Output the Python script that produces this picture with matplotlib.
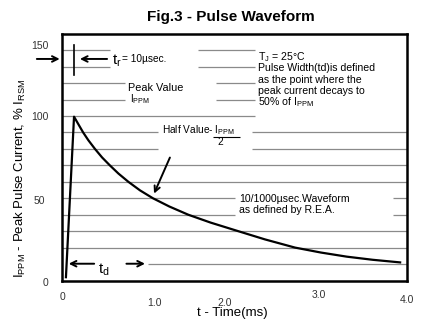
import numpy as np
import matplotlib
matplotlib.use('Agg')
import matplotlib.pyplot as plt
from matplotlib.transforms import ScaledTranslation

plt.rcParams['font.family'] = ['Liberation Sans', 'DejaVu Sans']
plt.rcParams['mathtext.default'] = 'regular'

# pulse waveform (time in ms, % of I_RSM)
t_ms = [0.04, 0.134, 0.19, 0.24, 0.30, 0.377, 0.46, 0.55, 0.65, 0.765, 0.90,
        1.05, 1.24, 1.46, 1.72, 2.04, 2.35, 2.70, 3.00, 3.30, 3.60, 3.92]
current = [2, 99.6, 94.5, 90, 85.3, 80, 74.8, 70, 65, 60, 54.8,
           50, 45.0, 40, 35.2, 30, 25.0, 20, 17.0, 14.5, 12.6, 11.0]

x_ticks = [0, 1, 2, 3, 4]
x_labels = ['0', '1.0', '2.0', '3.0', '4.0']
y_ticks = [0, 50, 100, 150]
y_labels = ['0', '50', '100', '150']

# horizontal guide lines, broken where the notes sit: (level, [(start, end), ...])
grid_lines = [
    (140, [(0, 0.55), (1.57, 2.24)]),
    (130, [(0, 0.55), (1.57, 2.24)]),
    (120, [(0, 0.73), (1.78, 2.24)]),
    (110, [(0, 0.73), (1.78, 2.24)]),
    (100, [(0, 2.24)]),
    (90, [(0, 1.11), (2.20, 4.0)]),
    (80, [(0, 1.11), (2.20, 4.0)]),
    (70, [(0, 4.0)]),
    (60, [(0, 4.0)]),
    (50, [(0, 2.0), (3.84, 4.0)]),
    (40, [(0, 2.0), (3.84, 4.0)]),
    (30, [(0, 4.0)]),
    (20, [(0, 4.0)]),
    (10, [(0.99, 4.0)]),
]

fig = plt.figure(figsize=(4.28, 3.30), dpi=100)
ax = fig.add_axes([0.146, 0.15, 0.805, 0.7476])
ax.set_xlim(0, 4)
ax.set_ylim(0, 150)

for level, segs in grid_lines:
    for a, b in segs:
        ax.hlines(level, a, b, color='#8a8a8a', lw=0.9, zorder=1)

ax.plot(t_ms, current, color='black', lw=1.6, zorder=3)

for s in ax.spines.values():
    s.set_linewidth(1.8)

ax.set_xticks(x_ticks)
ax.set_xticklabels(x_labels)
ax.set_yticks(y_ticks)
ax.set_yticklabels(y_labels)
ax.tick_params(length=0, labelsize=7.5, labelcolor='#333333')
ax.tick_params(axis='x', pad=8)
ax.tick_params(axis='y', pad=10)

# the printed labels are a bit scattered
x_off = [(0, 0), (6, -6), (-10, -6), (-2, 2), (0, -3)]
for lbl, (dx, dy) in zip(ax.get_xticklabels(), x_off):
    lbl.set_transform(lbl.get_transform() + ScaledTranslation(dx / 100, dy / 100, fig.dpi_scale_trans))
y_off = [(0, -2), (-4, -2), (0, 0), (0, -11)]
for lbl, (dx, dy) in zip(ax.get_yticklabels(), y_off):
    lbl.set_transform(lbl.get_transform() + ScaledTranslation(dx / 100, dy / 100, fig.dpi_scale_trans))

fig.text(231 / 428, 1 - 17 / 330, 'Fig.3 - Pulse Waveform', ha='center', va='center',
         fontsize=11, fontweight='bold')
fig.text(232 / 428, 1 - 313 / 330, 't - Time(ms)', ha='center', va='center', fontsize=9.5)
fig.text(20 / 428, 1 - 178 / 330, r'$I_{PPM}$ - Peak Pulse Current, % $I_{RSM}$',
         ha='center', va='center', rotation=90, fontsize=9.5)

arrow = dict(arrowstyle='->', color='black', lw=1.4, mutation_scale=10)
fs = 7.3

# rise time marker
ax.plot([0.134, 0.134], [125, 143.2], color='black', lw=1.2)
ax.annotate('', xy=(0, 134.7), xytext=(-0.33, 134.7), arrowprops=arrow, annotation_clip=False)
ax.annotate('', xy=(0.17, 134.7), xytext=(0.55, 134.7), arrowprops=arrow)
ax.text(0.575, 133.5, r'$t_r$', fontsize=11, va='center')
ax.text(0.69, 134.5, '= 10µsec.', fontsize=fs, va='center')

ax.text(0.76, 117, 'Peak Value', fontsize=fs + 0.5, va='center')
ax.text(0.78, 110.4, r'$I_{PPM}$', fontsize=fs, va='center')

notes = ['$T_J$ = 25°C', 'Pulse Width(td)is defined', 'as the point where the',
         'peak current decays to', '50% of $I_{PPM}$']
for i, line in enumerate(notes):
    ax.text(2.27, 136 - i * 6.9, line, fontsize=fs + 0.3, va='center')

ax.text(1.16, 91.5, r'Half Value- $I_{PPM}$', fontsize=fs, va='center')
ax.hlines(87.3, 1.745, 2.06, color='black', lw=0.8)
ax.text(1.80, 84.4, '2', fontsize=fs, va='center')
ax.annotate('', xy=(1.05, 51.3), xytext=(1.26, 76.3), arrowprops=arrow)

ax.text(2.05, 49.5, '10/1000µsec.Waveform', fontsize=fs + 0.3, va='center')
ax.text(2.05, 42.6, 'as defined by R.E.A.', fontsize=fs + 0.3, va='center')

# decay time marker
ax.annotate('', xy=(0.04, 10.2), xytext=(0.40, 10.2), arrowprops=arrow)
ax.annotate('', xy=(0.99, 10.2), xytext=(0.71, 10.2), arrowprops=arrow)
ax.text(0.41, 6.5, r'$t_d$', fontsize=11, va='center')

fig.savefig('out.png', dpi=100)
